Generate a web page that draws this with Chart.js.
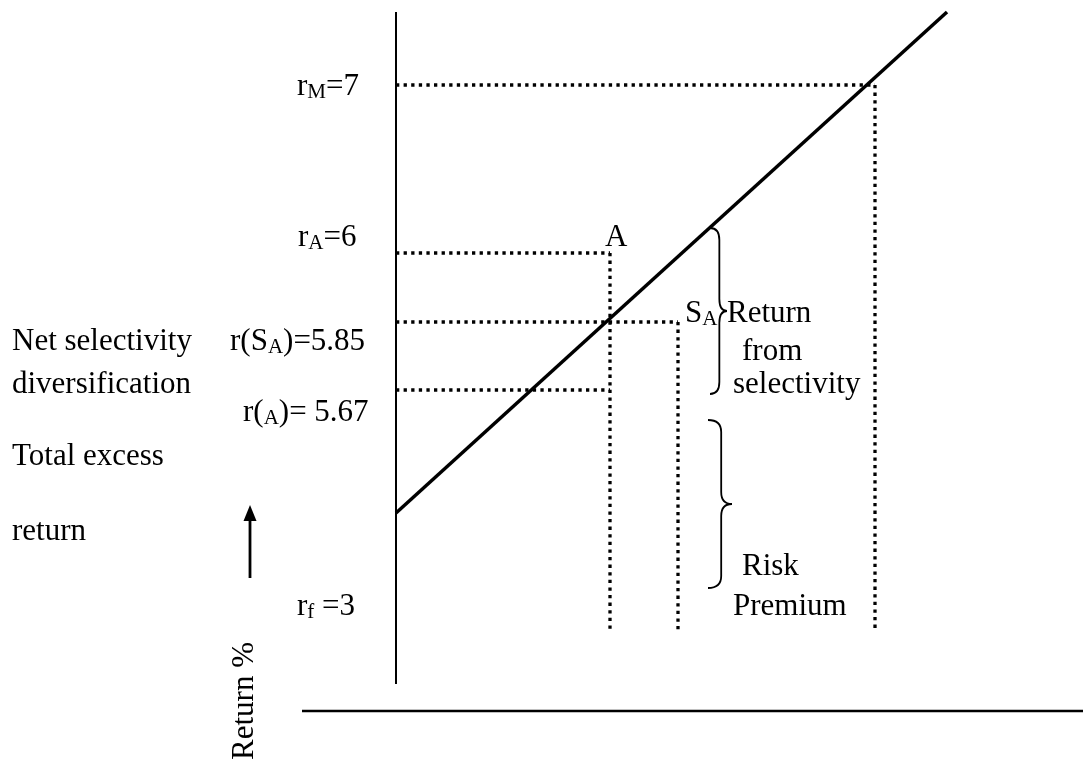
<!DOCTYPE html>
<html>
<head>
<meta charset="utf-8">
<script src="https://cdn.jsdelivr.net/npm/chart.js@4.4.1/dist/chart.umd.min.js"></script>
<style>
  html, body { margin: 0; padding: 0; background: #fff; }
  #wrap { width: 1086px; height: 765px; position: relative; }
</style>
</head>
<body>
<div id="wrap"><canvas id="chart"></canvas></div>
<script>
// Diagram units: x = risk, y = return (schematic, origin at the axis corner)
const returnLevels = [62.6, 45.8, 38.9, 32.1];   // rM=7, rA=6, r(SA)=5.85, r(A)=5.67
const guideRisks = [47.9, 21.4, 28.2, 21.4];     // where each dotted level meets its point
const hasDropLine = [true, true, true, false];
const dropFloor = 7.9;

const smlRisk = [0, 55.1];
const smlReturn = [19.8, 69.9];

const axisRisk = [0, 0];
const axisReturn = [2.7, 69.9];
const baseRisk = [-9.4, 68.7];
const baseReturn = [0, 0];

const arrowRisk = -14.6;
const arrowReturn = [13.3, 20.6];

// braces: left x, top, bottom, tip x
const braceLeft = [31.4, 31.2];
const braceTop = [48.3, 29.1];
const braceBottom = [31.7, 12.3];
const braceTip = [33.1, 33.6];

// text runs: [text, isSubscript]
const labelParts = [
  [["r", 0], ["M", 1], ["=7", 0]],
  [["r", 0], ["A", 1], ["=6", 0]],
  [["A", 0]],
  [["Net selectivity", 0]],
  [["r(S", 0], ["A", 1], [")=5.85", 0]],
  [["diversification", 0]],
  [["r(", 0], ["A", 1], [")= 5.67", 0]],
  [["S", 0], ["A", 1]],
  [["Return", 0]],
  [["from", 0]],
  [["selectivity", 0]],
  [["Total excess", 0]],
  [["return", 0]],
  [["r", 0], ["f", 1], [" =3", 0]],
  [["Risk", 0]],
  [["Premium", 0]]
];
const labelRisk = [-9.9, -9.8, 20.9, -38.4, -16.6, -38.4, -15.3, 28.9, 33.1, 34.6, 33.7, -38.4, -38.4, -9.9, 34.6, 33.7];
const labelReturn = [62.6, 47.5, 47.5, 37.1, 37.1, 32.8, 30.0, 39.9, 39.9, 36.1, 32.8, 25.6, 18.1, 10.6, 14.6, 10.6];

const axisTitle = "Return %";
const axisTitleRisk = -15.1;
const axisTitleReturn = 1.0;

const FONT = "'Liberation Serif', 'Times New Roman', serif";
const SIZE = 31;
const SUB = 21;

function line(xs, ys, width, dash) {
  return {
    data: xs.map((x, i) => ({ x: x, y: ys[i] })),
    showLine: true,
    borderColor: "#000",
    borderWidth: width,
    borderDash: dash || [],
    borderCapStyle: "butt",
    pointRadius: 0,
    fill: false
  };
}

const datasets = [];
datasets.push(line(axisRisk, axisReturn, 2));
datasets.push(line(baseRisk, baseReturn, 2.5));
returnLevels.forEach((lvl, i) => {
  datasets.push(line([0, guideRisks[i]], [lvl, lvl], 3.3, [3.3, 4.3]));
  if (hasDropLine[i]) {
    datasets.push(line([guideRisks[i], guideRisks[i]], [lvl, dropFloor], 3.3, [3.3, 4.3]));
  }
});
datasets.push(line(smlRisk, smlReturn, 3.5));

const diagramPlugin = {
  id: "diagram",
  afterDatasetsDraw(chart) {
    const ctx = chart.ctx;
    const sx = chart.scales.x;
    const sy = chart.scales.y;
    ctx.save();
    ctx.fillStyle = "#000";
    ctx.strokeStyle = "#000";
    ctx.textBaseline = "alphabetic";

    // labels with subscripts
    labelParts.forEach((parts, i) => {
      let px = sx.getPixelForValue(labelRisk[i]);
      const base = sy.getPixelForValue(labelReturn[i]) + SIZE * 0.33;
      parts.forEach(([txt, sub]) => {
        ctx.font = (sub ? SUB : SIZE) + "px " + FONT;
        ctx.fillText(txt, px, sub ? base + 3 : base);
        px += ctx.measureText(txt).width;
      });
    });

    // rotated axis title
    ctx.save();
    ctx.translate(sx.getPixelForValue(axisTitleRisk), sy.getPixelForValue(axisTitleReturn));
    ctx.rotate(-Math.PI / 2);
    ctx.font = SIZE + "px " + FONT;
    ctx.textAlign = "center";
    ctx.textBaseline = "middle";
    ctx.fillText(axisTitle, 0, 0);
    ctx.restore();

    // up arrow
    const ax = sx.getPixelForValue(arrowRisk);
    const ay0 = sy.getPixelForValue(arrowReturn[0]);
    const ay1 = sy.getPixelForValue(arrowReturn[1]);
    ctx.lineWidth = 2.8;
    ctx.beginPath();
    ctx.moveTo(ax, ay0);
    ctx.lineTo(ax, ay1 + 12);
    ctx.stroke();
    ctx.beginPath();
    ctx.moveTo(ax, ay1);
    ctx.lineTo(ax - 6.5, ay1 + 16);
    ctx.lineTo(ax + 6.5, ay1 + 16);
    ctx.closePath();
    ctx.fill();

    // curly braces
    ctx.lineWidth = 1.8;
    braceLeft.forEach((bl, i) => {
      const x0 = sx.getPixelForValue(bl);
      const xt = sx.getPixelForValue(braceTip[i]);
      const top = sy.getPixelForValue(braceTop[i]);
      const bot = sy.getPixelForValue(braceBottom[i]);
      const mid = (top + bot) / 2;
      const a = x0 + (xt - x0) * 0.55;
      const r = 12;
      ctx.beginPath();
      ctx.moveTo(x0, top);
      ctx.quadraticCurveTo(a, top, a, top + r);
      ctx.lineTo(a, mid - r);
      ctx.quadraticCurveTo(a, mid, xt, mid);
      ctx.quadraticCurveTo(a, mid, a, mid + r);
      ctx.lineTo(a, bot - r);
      ctx.quadraticCurveTo(a, bot, x0, bot);
      ctx.stroke();
    });
    ctx.restore();
  }
};

new Chart(document.getElementById("chart"), {
  type: "scatter",
  data: { datasets: datasets },
  options: {
    responsive: true,
    maintainAspectRatio: false,
    animation: false,
    layout: { padding: 0 },
    plugins: { legend: { display: false }, tooltip: { enabled: false } },
    scales: {
      x: { type: "linear", min: -39.6, max: 69.0, display: false },
      y: { type: "linear", min: -5.4, max: 71.1, display: false }
    }
  },
  plugins: [diagramPlugin]
});
</script>
</body>
</html>
